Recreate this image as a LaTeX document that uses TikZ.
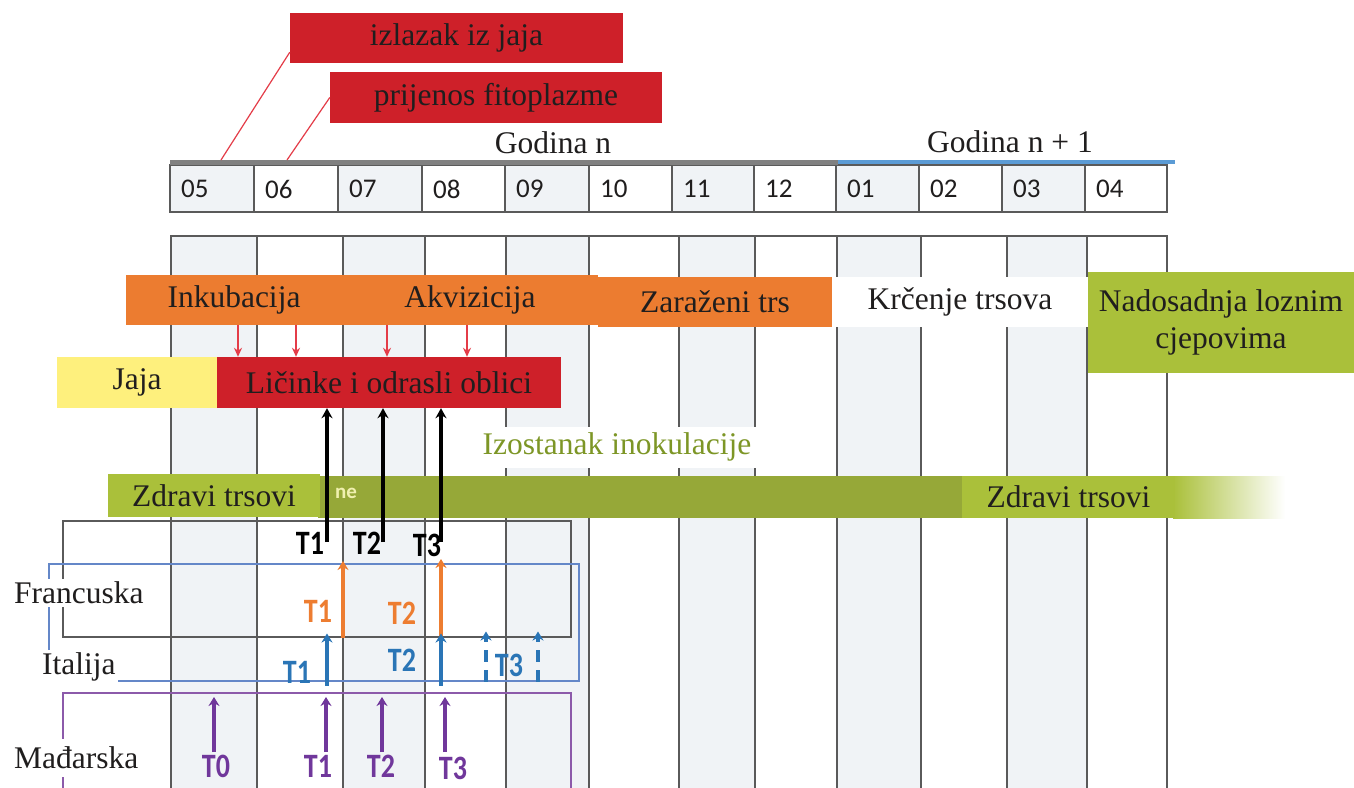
\documentclass[tikz,border=0pt]{standalone}
\usepackage{fontspec}
\setmainfont{Liberation Serif}
\newfontfamily\calib{Carlito}
\usetikzlibrary{arrows.meta}
\newcommand{\tlab}[1]{\scalebox{1}[1.22]{#1}}
\definecolor{cred}{RGB}{206,32,41}
\definecolor{credl}{RGB}{228,60,72}
\definecolor{corange}{RGB}{236,124,48}
\definecolor{cyellow}{RGB}{254,240,125}
\definecolor{clime}{RGB}{170,192,58}
\definecolor{colive}{RGB}{150,168,56}
\definecolor{ctext}{RGB}{125,150,38}
\definecolor{cgrid}{RGB}{90,90,90}
\definecolor{cshade}{RGB}{240,243,246}
\definecolor{cblue}{RGB}{42,117,182}
\definecolor{corT}{RGB}{237,125,49}
\definecolor{cpurple}{RGB}{112,55,155}
\definecolor{cbluer}{RGB}{100,135,200}
\definecolor{cpurr}{RGB}{140,90,170}
\definecolor{ctopg}{RGB}{128,128,128}
\definecolor{ctopb}{RGB}{91,155,213}
\definecolor{cpale}{RGB}{240,240,175}
\definecolor{cdark}{RGB}{32,30,30}
\begin{document}
\begin{tikzpicture}[x=1pt,y=-1pt,
  big/.style={font=\fontsize{31.5}{37}\selectfont, text=cdark, inner sep=0pt},
  mon/.style={font=\calib\fontsize{27}{30}\selectfont, text=cdark, anchor=west, inner sep=0pt},
  tl/.style={font=\calib\bfseries\fontsize{28}{30}\selectfont, inner sep=0pt},
  gridl/.style={draw=cgrid, line width=2pt},
  hdr/.style={draw=cgrid, line width=1.7pt},
  redarr/.style={draw=credl, line width=1.6pt, -{Stealth[length=9pt,width=8pt]}},
  blkarr/.style={draw=black, line width=3.4pt, -{Stealth[length=10pt,width=11pt]}},
  colarr/.style={line width=3.4pt, -{Stealth[length=9pt,width=11pt]}},
  ctry/.style={inner sep=0pt, minimum width=508pt, anchor=north west, line width=1.5pt}
]
\useasboundingbox (0,0) rectangle (1354,787);
\fill[white] (0,0) rectangle (1354,787);
\begin{scope}
\clip (0,0) rectangle (1354,787);
% ---------- lower grid ----------
\foreach \a/\b in {171/257,343/425,506/589,679/755,837/921,1007/1087}
  \fill[cshade] (\a,236) rectangle (\b,790);
\draw[gridl] (171,790) -- (171,236) -- (1167,236) -- (1167,790);
\foreach \x in {257,343,425,506,589,679,755,837,921,1007,1087}
  \draw[gridl] (\x,236) -- (\x,790);
% ---------- header ----------
\foreach \a/\b in {170/254,338/422,505/589,672/754,836/919,1002/1085}
  \fill[cshade] (\a,165) rectangle (\b,212);
\draw[hdr] (170,165) rectangle (1167,212);
\foreach \x in {254,338,422,505,589,672,754,836,919,1002,1085}
  \draw[hdr] (\x,165) -- (\x,212);
\node[mon] (m05) at (181,189) {05};
\node[mon] (m06) at (265,189) {06};
\node[mon] (m07) at (349,189) {07};
\node[mon] (m08) at (433,189) {08};
\node[mon] (m09) at (516,189) {09};
\node[mon] (m10) at (600,189) {10};
\node[mon] (m11) at (683,189) {11};
\node[mon] (m12) at (765,189) {12};
\node[mon] (m01) at (847,189) {01};
\node[mon] (m02) at (930,189) {02};
\node[mon] (m03) at (1013,189) {03};
\node[mon] (m04) at (1096,189) {04};
\draw[ctopg, line width=5pt] (170,162) -- (838,162);
\draw[ctopb, line width=4pt] (838,162) -- (1175,162);
\node[big] (gn) at (553,143) {Godina n};
\node[big] (gn1) at (1010,142) {Godina n + 1};
% ---------- top red labels ----------
\node[big, fill=cred, minimum width=333pt, minimum height=50pt] (izl) at (456.5,38) {izlazak iz jaja};
\node[big, fill=cred, minimum width=332pt, minimum height=51pt] (prij) at (496,97.5) {prijenos fitoplazme};
\coordinate (h05) at (221,160);
\coordinate (h06) at (287,160);
\draw[credl, line width=1.2pt] (h05) -- ([yshift=11pt]izl.south west);
\draw[credl, line width=1.2pt] (h06) -- (prij.west);
% ---------- country rectangles ----------
\node[ctry, draw=cgrid, minimum height=116pt] (fra) at (62,520) {};
\node[ctry, draw=cbluer, minimum width=530pt, minimum height=117pt] (ita) at (48,563) {};
\node[ctry, draw=cpurr, minimum height=105pt] (hun) at (62,692) {};
% ---------- orange bar etc ----------
\node[big, fill=corange, minimum width=216pt, minimum height=50pt, text depth=7pt] (inku) at (234,300) {Inkubacija};
\node[big, fill=corange, minimum width=256pt, minimum height=50pt, text depth=7pt] (akvi) at (470,300) {Akvizicija};
\node[big, fill=corange, minimum width=234pt, minimum height=50pt] (zara) at (715,302) {Zaraženi trs};
\node[big, fill=white, minimum width=256pt, minimum height=50pt] (krc) at (960,302) {Krčenje trsova};
\node[big, fill=clime, minimum width=266pt, minimum height=101pt, align=center] (nado) at (1221,322.5) {Nadosadnja loznim\\cjepovima};
% ---------- life stages ----------
\node[big, fill=cyellow, minimum width=160pt, minimum height=51pt] (jaja) at (137,382.5) {Jaja};
\node[big, fill=cred, minimum width=344pt, minimum height=51pt] (lic) at (389,382.5) {Ličinke i odrasli oblici};
\foreach \n/\x in {1/238,2/296,3/387,4/467} {
  \coordinate (ra\n) at (\x,0);
  \draw[redarr] (inku.south -| ra\n) -- (lic.north -| ra\n);
}
% ---------- Izostanak inokulacije ----------
\fill[white] (458,427) rectangle (760,468);
\node[big, text=ctext] (izo) at (617,447) {Izostanak inokulacije};
% ---------- green band ----------
\fill[colive] (318,476) rectangle (964,518);
\shade[left color=clime, right color=white] (1173,476) rectangle (1285,518);
\node[big, fill=clime, minimum width=212pt, minimum height=43pt] (zd1) at (214,495.5) {Zdravi trsovi};
\node[big, fill=clime, minimum width=213pt, minimum height=42pt] (zd2) at (1068.5,497) {Zdravi trsovi};
\node[font=\calib\bfseries\fontsize{21}{24}\selectfont, text=cpale, inner sep=0pt] (ne) at (346,493) {ne};
% ---------- black arrows ----------
\node[tl] (bT1) at (310,543) {\tlab{T1}};
\node[tl] (bT2) at (367,543) {\tlab{T2}};
\node[tl] (bT3) at (427,545) {\tlab{T3}};
\coordinate (bk1) at (327,542);
\coordinate (bk2) at (383,542);
\coordinate (bk3) at (441,542);
\foreach \n in {1,2,3}
  \draw[blkarr] (bk\n) -- (lic.south -| bk\n);
% ---------- country labels ----------
\node[big, fill=white, anchor=west, inner xsep=2pt, inner ysep=3pt] (lfr) at (12,593) {Francuska};
\node[big, fill=white, anchor=west, inner xsep=2pt, inner ysep=3pt] (lit) at (40,667) {Italija};
\node[big, fill=white, anchor=west, inner xsep=2pt, inner ysep=8pt] (lhu) at (12,758) {Mađarska};
% ---------- France (orange) ----------
\node[tl, text=corT] (oT1) at (318,611) {\tlab{T1}};
\node[tl, text=corT] (oT2) at (402,613) {\tlab{T2}};
\coordinate (oa1) at (343,0);
\coordinate (oa2) at (441,0);
\draw[colarr, corT] (fra.south -| oa1) -- ([yshift=2pt]ita.north -| oa1);
\draw[colarr, corT] (fra.south -| oa2) -- ([yshift=4pt]ita.north -| oa2);
% ---------- Italy (blue) ----------
\node[tl, text=cblue] (iT1) at (297,672) {\tlab{T1}};
\node[tl, text=cblue] (iT2) at (402,660) {\tlab{T2}};
\node[tl, text=cblue] (iT3) at (509,665) {\tlab{T3}};
\coordinate (ia1) at (327,0);
\coordinate (ia2) at (441,0);
\coordinate (ia3) at (486,0);
\coordinate (ia4) at (538,0);
\draw[colarr, cblue] ([yshift=-4pt]ita.south -| ia1) -- ([yshift=4pt]fra.south -| ia1);
\draw[colarr, cblue] ([yshift=-4pt]ita.south -| ia2) -- ([yshift=4pt]fra.south -| ia2);
\draw[colarr, cblue, dash pattern=on 12pt off 8pt] (ita.south -| ia3) -- ([yshift=6pt]fra.south -| ia3);
\draw[colarr, cblue, dash pattern=on 12pt off 8pt] (ita.south -| ia4) -- ([yshift=6pt]fra.south -| ia4);
% ---------- Hungary (purple) ----------
\node[tl, text=cpurple] (hT0) at (216,766) {\tlab{T0}};
\node[tl, text=cpurple] (hT1) at (318,766) {\tlab{T1}};
\node[tl, text=cpurple] (hT2) at (381,766) {\tlab{T2}};
\node[tl, text=cpurple] (hT3) at (453,768) {\tlab{T3}};
\coordinate (pa0) at (214,752);
\coordinate (pa1) at (326,752);
\coordinate (pa2) at (382,752);
\coordinate (pa3) at (445,752);
\foreach \n in {0,1,2,3}
  \draw[colarr, cpurple] (pa\n) -- ([yshift=-5pt]hun.north -| pa\n);
\end{scope}
\end{tikzpicture}
\end{document}
